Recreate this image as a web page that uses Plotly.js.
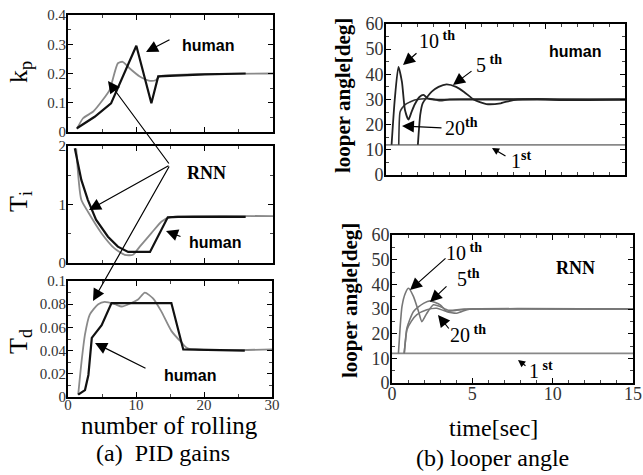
<!DOCTYPE html>
<html><head><meta charset="utf-8">
<script src="https://cdn.plot.ly/plotly-3.0.1.min.js"></script>
<style>body{margin:0;background:#fff}#chart{width:643px;height:475px}</style>
</head><body><div id="chart"></div>
<script>
// ---------- data ----------
// (a) PID gains vs number of rolling
const kpHumanX = [1.3, 3.9, 6.3, 10, 12.2, 13.2, 20, 26];
const kpHumanY = [0.013, 0.052, 0.098, 0.295, 0.098, 0.19, 0.197, 0.2];
const kpRnnX = [1.3, 2.2, 3.7, 5.1, 6.1, 7.3, 8.0, 9.0, 10.5, 12.0, 12.9, 13.4, 20, 30];
const kpRnnY = [0.01, 0.047, 0.07, 0.11, 0.144, 0.235, 0.24, 0.218, 0.19, 0.175, 0.178, 0.19, 0.198, 0.2];

const tiHumanX = [1.0, 1.95, 2.9, 4.1, 5.85, 7.3, 8.8, 12, 14.6, 16.1, 26];
const tiHumanY = [1.96, 1.42, 1.08, 0.74, 0.45, 0.28, 0.19, 0.19, 0.78, 0.79, 0.79];
const tiRnnX = [1.2, 1.95, 2.9, 4.9, 6.8, 8.3, 9.5, 10.5, 12.2, 13.7, 14.9, 30];
const tiRnnY = [1.96, 1.08, 0.88, 0.51, 0.25, 0.14, 0.14, 0.28, 0.51, 0.71, 0.78, 0.8];

const tdHumanX = [1.5, 2.5, 3.0, 3.5, 4.95, 6.4, 15.2, 16.95, 26];
const tdHumanY = [0.002, 0.006, 0.019, 0.051, 0.062, 0.081, 0.081, 0.041, 0.04];
const tdRnnX = [1.5, 2.0, 2.5, 3.2, 4.45, 5.4, 6.9, 7.9, 9.3, 10.3, 11.3, 12.5, 13.7, 15.2, 16.7, 17.6, 30];
const tdRnnY = [0.002, 0.031, 0.054, 0.071, 0.08, 0.082, 0.08, 0.078, 0.081, 0.084, 0.09, 0.085, 0.074, 0.057, 0.047, 0.042, 0.041];

// (b) looper angle vs time[sec] — human
const h1T = [0, 15], h1Y = [12, 12];
const h10T = [0.35, 0.55, 0.78, 1.0, 1.19, 1.41, 1.6, 1.8, 2.1, 2.35, 2.65, 3.0, 4, 15];
const h10Y = [12, 30, 43, 37, 25.8, 22, 25, 28, 31, 31.8, 30.3, 30, 30, 30];
const h20T = [0.8, 0.88, 1.0, 1.2, 1.5, 1.8, 2.2, 2.7, 3.4, 4.0, 15];
const h20Y = [12, 25, 26.5, 28, 29, 29.8, 30.2, 30.4, 29.5, 30, 30];
const h5T = [2.0, 2.15, 2.3, 2.87, 3.3, 3.8, 4.4, 4.9, 5.5, 6.3, 7.2, 8, 9.5, 11, 15];
const h5Y = [12, 24, 28.5, 33.1, 35, 36, 35, 33, 30, 28.2, 28.5, 29.8, 30.2, 29.8, 30];
// (b) looper angle — RNN
const r1T = [0, 15], r1Y = [12, 12];
const r10T = [0.4, 0.5, 0.62, 0.83, 1.03, 1.34, 1.65, 1.86, 2.17, 2.58, 3.0, 3.5, 4.5, 15];
const r10Y = [12, 22, 31, 36.4, 38.4, 35, 29, 24.9, 28.3, 31.7, 31, 29.5, 30, 30];
const r5T = [0.76, 0.85, 0.93, 1.34, 1.96, 2.38, 3.0, 3.41, 4.03, 4.65, 5, 15];
const r5Y = [12, 18, 22.3, 29, 32.3, 33.3, 31.7, 29, 28.3, 29.7, 30, 30];
const r20T = [0.76, 0.85, 0.93, 1.2, 1.55, 2.17, 2.79, 3.41, 4.03, 5, 15];
const r20Y = [12, 18, 21.6, 25, 27.7, 29.7, 30.3, 29, 29.5, 30, 30];

// ---------- layout helpers (pixel -> paper) ----------
const W = 643, H = 475;
const px = x => x / W, py = y => 1 - y / H;
const SERIF = 'Liberation Serif';
const SANS = 'Liberation Sans';

function xa(x0, x1, range, dtick, mdtick, labels, anchor, fs) {
  return {domain: [px(x0), px(x1)], range: range, dtick: dtick, tick0: 0, anchor: anchor,
    showline: true, mirror: 'ticks', linewidth: 2, linecolor: '#000', ticks: 'inside', ticklen: 5,
    tickcolor: '#000', showgrid: false, zeroline: false, showticklabels: labels,
    ticklabelstandoff: -7,
    tickfont: {family: SERIF, size: fs || 16, color: '#333'},
    minor: {ticks: 'inside', ticklen: 3, dtick: mdtick, tickcolor: '#444', showgrid: false}};
}
function ya(y0, y1, range, dtick, mdtick, size, anchor) {
  return {domain: [py(y1), py(y0)], range: range, dtick: dtick, tick0: 0, anchor: anchor,
    showline: true, mirror: 'ticks', linewidth: 2, linecolor: '#000', ticks: 'inside', ticklen: 5,
    tickcolor: '#000', showgrid: false, zeroline: false, ticklabelstandoff: -3,
    tickfont: {family: SERIF, size: size, color: '#333'},
    minor: {ticks: 'inside', ticklen: 3, dtick: mdtick, tickcolor: '#444', showgrid: false}};
}

const HUM = {color: '#111', width: 2.2};
const RNN = {color: '#8a8a8a', width: 1.8};

function tr(x, y, xaxis, yaxis, line, shape) {
  return {x: x, y: y, xaxis: xaxis, yaxis: yaxis, type: 'scatter', mode: 'lines',
    line: Object.assign({shape: shape || 'linear', smoothing: 0.6}, line), hoverinfo: 'none', showlegend: false};
}

const data = [
  tr(kpRnnX, kpRnnY, 'x', 'y', RNN, 'spline'),
  tr(kpHumanX, kpHumanY, 'x', 'y', HUM),
  tr(tiRnnX, tiRnnY, 'x2', 'y2', RNN, 'spline'),
  tr(tiHumanX, tiHumanY, 'x2', 'y2', HUM),
  tr(tdRnnX, tdRnnY, 'x3', 'y3', RNN, 'spline'),
  tr(tdHumanX, tdHumanY, 'x3', 'y3', HUM),
  tr(h1T, h1Y, 'x4', 'y4', {color: '#888', width: 1.8}),
  tr(h5T, h5Y, 'x4', 'y4', {color: '#222', width: 1.8}, 'spline'),
  tr(h20T, h20Y, 'x4', 'y4', {color: '#333', width: 1.6}, 'spline'),
  tr(h10T, h10Y, 'x4', 'y4', {color: '#222', width: 1.8}, 'spline'),
  tr(r1T, r1Y, 'x5', 'y5', {color: '#888', width: 1.8}),
  tr(r5T, r5Y, 'x5', 'y5', {color: '#777', width: 1.6}, 'spline'),
  tr(r20T, r20Y, 'x5', 'y5', {color: '#777', width: 1.6}, 'spline'),
  tr(r10T, r10Y, 'x5', 'y5', {color: '#777', width: 1.6}, 'spline')
];

function arrow(tx, ty, hx, hy, size) {
  return {xref: 'paper', yref: 'paper', x: px(hx), y: py(hy), ax: tx - hx, ay: ty - hy,
    text: '', showarrow: true, arrowhead: 2, arrowsize: size || 2.0,
    arrowwidth: 1.2, arrowcolor: '#000', standoff: 0, startstandoff: 0};
}
function label(x, y, text, font, angle) {
  return {xref: 'paper', yref: 'paper', x: px(x), y: py(y), text: text, showarrow: false,
    xanchor: 'center', yanchor: 'middle', font: font, textangle: angle || 0};
}
const bold = (s, f) => ({family: f || SANS, size: s, color: '#000'});
const reg = (s) => ({family: SERIF, size: s, color: '#000'});

const annotations = [
  // left panel titles
  label(20, 72, 'k<sub>p</sub>', reg(26), -90),
  label(20, 202, 'T<sub>i</sub>', reg(26), -90),
  label(20, 342, 'T<sub>d</sub>', reg(26), -90),
  label(170, 425, 'number of rolling', reg(25)),
  label(163, 453, '(a)  PID gains', reg(24)),
  label(208, 46, '<b>human</b>', bold(16)),
  label(206, 173, '<b>RNN</b>', bold(18, SERIF)),
  label(215, 242, '<b>human</b>', bold(16)),
  label(190, 375, '<b>human</b>', bold(16)),
  arrow(171, 39, 146, 52),
  arrow(182, 237, 166, 231),
  arrow(147, 369, 95, 343),
  arrow(170, 165, 108, 81),
  arrow(170, 165, 89, 210),
  arrow(170, 165, 93, 301),
  // right panel titles
  label(343, 96, '<b>looper angle[deg]</b>', bold(21, SERIF), -90),
  label(350, 301, '<b>looper angle[deg]</b>', bold(21, SERIF), -90),
  label(493, 428, 'time[sec]', reg(24)),
  label(492, 458, '(b) looper angle', reg(24)),
  label(575, 52, '<b>human</b>', bold(16)),
  label(575, 268, '<b>RNN</b>', bold(18, SERIF)),
  // human curve labels
  label(437, 40, '10<sup><b> th</b></sup>', reg(20)),
  label(489, 64, '5<sup><b> th</b></sup>', reg(20)),
  label(461, 127, '20<sup><b>th</b></sup>', reg(20)),
  label(521, 160, '1<sup><b>st</b></sup>', reg(20)),
  arrow(418, 52, 403, 65),
  arrow(473, 70, 453, 85),
  arrow(443, 128, 402, 126),
  arrow(507, 157, 492, 148, 1.2),
  // RNN curve labels
  label(464, 252, '10<sup><b> th</b></sup>', reg(20)),
  label(468, 278, '5<sup><b>th</b></sup>', reg(20)),
  label(468, 334, '20<sup><b> th</b></sup>', reg(20)),
  label(541, 370, '1<sup><b> st</b></sup>', reg(20)),
  arrow(447, 257, 410, 290),
  arrow(448, 285, 430, 302),
  arrow(450, 330, 438, 315),
  arrow(527, 367, 518, 360, 1.2)
];

const layout = {
  width: W, height: H, margin: {l: 0, r: 0, t: 0, b: 0},
  paper_bgcolor: '#fff', plot_bgcolor: '#fff', showlegend: false,
  font: {family: SERIF},
  xaxis: xa(68, 273, [0, 30], 10, 5, false, 'y'),
  yaxis: ya(15, 132, [0, 0.4], 0.1, 0.05, 15, 'x'),
  xaxis2: xa(68, 273, [0, 30], 10, 5, false, 'y2'),
  yaxis2: ya(146, 263, [0, 2], 1, 0.5, 15, 'x2'),
  xaxis3: xa(68, 272, [0, 30], 10, 5, true, 'y3', 15),
  yaxis3: ya(281, 397, [0, 0.1], 0.02, 0.01, 15, 'x3'),
  xaxis4: xa(386, 625, [0, 15], 5, 1, false, 'y4'),
  yaxis4: ya(24, 175, [0, 60], 10, 5, 18, 'x4'),
  xaxis5: xa(392, 633, [0, 15], 5, 1, true, 'y5', 18),
  yaxis5: ya(235, 383, [0, 60], 10, 5, 18, 'x5'),
  annotations: annotations
};

Plotly.newPlot('chart', data, layout, {staticPlot: true, displayModeBar: false});
</script></body></html>
